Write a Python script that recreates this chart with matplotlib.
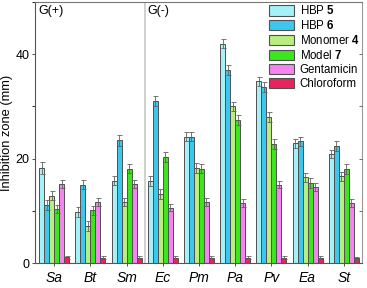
import matplotlib
matplotlib.use("Agg")
import matplotlib.pyplot as plt
import numpy as np

plt.rcParams['font.family'] = ['Liberation Sans', 'DejaVu Sans']
plt.rcParams['mathtext.fontset'] = 'custom'
plt.rcParams['mathtext.rm'] = 'Liberation Sans'
plt.rcParams['mathtext.bf'] = 'Liberation Sans:bold'

categories = ["Sa", "Bt", "Sm", "Ec", "Pm", "Pa", "Pv", "Ea", "St"]
series_names = [r"HBP $\mathbf{5}$", r"HBP $\mathbf{6}$", r"Monomer $\mathbf{4}$",
                r"Model $\mathbf{7}$", "Gentamicin", "Chloroform"]
hbp5 = [18.2, 9.8, 15.8, 15.7, 24.2, 42.0, 34.8, 22.9, 20.9]
hbp6 = [11.1, 15.0, 23.5, 31.0, 24.2, 37.0, 33.7, 23.3, 22.4]
mon4 = [12.9, 7.1, 11.7, 13.2, 18.2, 30.0, 28.0, 16.4, 16.6]
mod7 = [10.3, 10.1, 18.1, 20.3, 18.1, 27.4, 22.8, 15.3, 18.0]
gent = [15.1, 11.7, 15.1, 10.6, 11.7, 11.5, 15.0, 14.5, 11.5]
chlo = [1.1, 1.0, 1.0, 1.0, 1.0, 1.0, 1.0, 1.0, 0.9]
err5 = [1.2, 0.9, 0.9, 0.9, 0.9, 0.9, 0.9, 0.9, 0.8]
err6 = [1.0, 0.9, 1.0, 0.9, 0.9, 0.9, 0.9, 0.9, 0.9]
err4 = [0.8, 0.9, 0.8, 0.9, 0.9, 0.9, 0.9, 0.8, 0.9]
err7 = [0.8, 0.9, 0.9, 0.9, 0.9, 0.9, 0.9, 0.9, 0.9]
errg = [0.8, 0.8, 0.8, 0.7, 0.8, 0.8, 0.7, 0.8, 0.8]
errc = [0.3, 0.3, 0.3, 0.3, 0.3, 0.3, 0.3, 0.3, 0.3]
group_labels = ["G(+)", "G(-)"]

values = [hbp5, hbp6, mon4, mod7, gent, chlo]
errors = [err5, err6, err4, err7, errg, errc]
colors = ["#a4f2f8", "#3cc8ee", "#b8ee80", "#3ce61c", "#f484f0", "#e8245c"]

fig = plt.figure(figsize=(3.67, 2.88), dpi=100)
ax = fig.add_axes([35/367, 25/288, (362-35)/367, (286-25)/288])

x = np.arange(len(categories))
w = 0.138
for i, (vals, errs, c, name) in enumerate(zip(values, errors, colors, series_names)):
    off = (i - 2.5) * w
    ax.bar(x + off, vals, width=w, color=c, edgecolor="#505050", linewidth=0.7,
           label=name, zorder=2)
    ax.errorbar(x + off, vals, yerr=errs, fmt="none", ecolor="#606060",
                elinewidth=0.6, capsize=1.8, capthick=0.6, zorder=3)

ax.axvline(2.5, color="#c8c8c8", linewidth=1.2, zorder=1)
ax.text(0.009, 0.99, group_labels[0], transform=ax.transAxes, ha="left", va="top", fontsize=9)
ax.text(0.3425, 0.99, group_labels[1], transform=ax.transAxes, ha="left", va="top", fontsize=9)

ax.set_xlim(-0.53, 8.505)
ax.set_ylim(0, 50)
ax.set_xticks(x)
ax.set_xticklabels(categories, fontstyle="italic", fontsize=10)
ax.set_yticks([0, 20, 40])
ax.set_yticks([10, 30, 50], minor=True)
ax.tick_params(axis="y", labelsize=9, length=2.5, width=0.6, direction="out",
               colors="#333333", labelcolor="black", pad=1.5)
ax.tick_params(axis="y", which="minor", length=2, width=0.6, direction="out")
ax.tick_params(axis="x", length=2.5, width=0.6, direction="out", pad=3.5, labelsize=10,
               colors="#333333", labelcolor="black")
ax.set_ylabel("Inhibition zone (mm)", fontsize=9.3)
ax.yaxis.set_label_coords(-0.066, 0.498)

ax2 = ax.twinx()
ax2.set_ylim(0, 50)
ax2.set_yticks([10, 20, 30, 40])
ax2.tick_params(axis="y", direction="in", length=2.5, width=0.6, labelright=False,
                colors="#555555")
for s in ax2.spines.values():
    s.set_visible(False)

for s in ax.spines.values():
    s.set_color("#555555")
    s.set_linewidth(0.8)
ax.spines["right"].set_color("#999999")
ax.spines["top"].set_color("#777777")

leg = ax.legend(loc="upper right", frameon=False, fontsize=8.3, handlelength=2.2,
                handleheight=1.0, labelspacing=0.16, borderaxespad=0.1,
                handletextpad=0.45, borderpad=0.1)
for p in leg.get_patches():
    p.set_linewidth(0.8)

fig.savefig("out.png", dpi=100)
